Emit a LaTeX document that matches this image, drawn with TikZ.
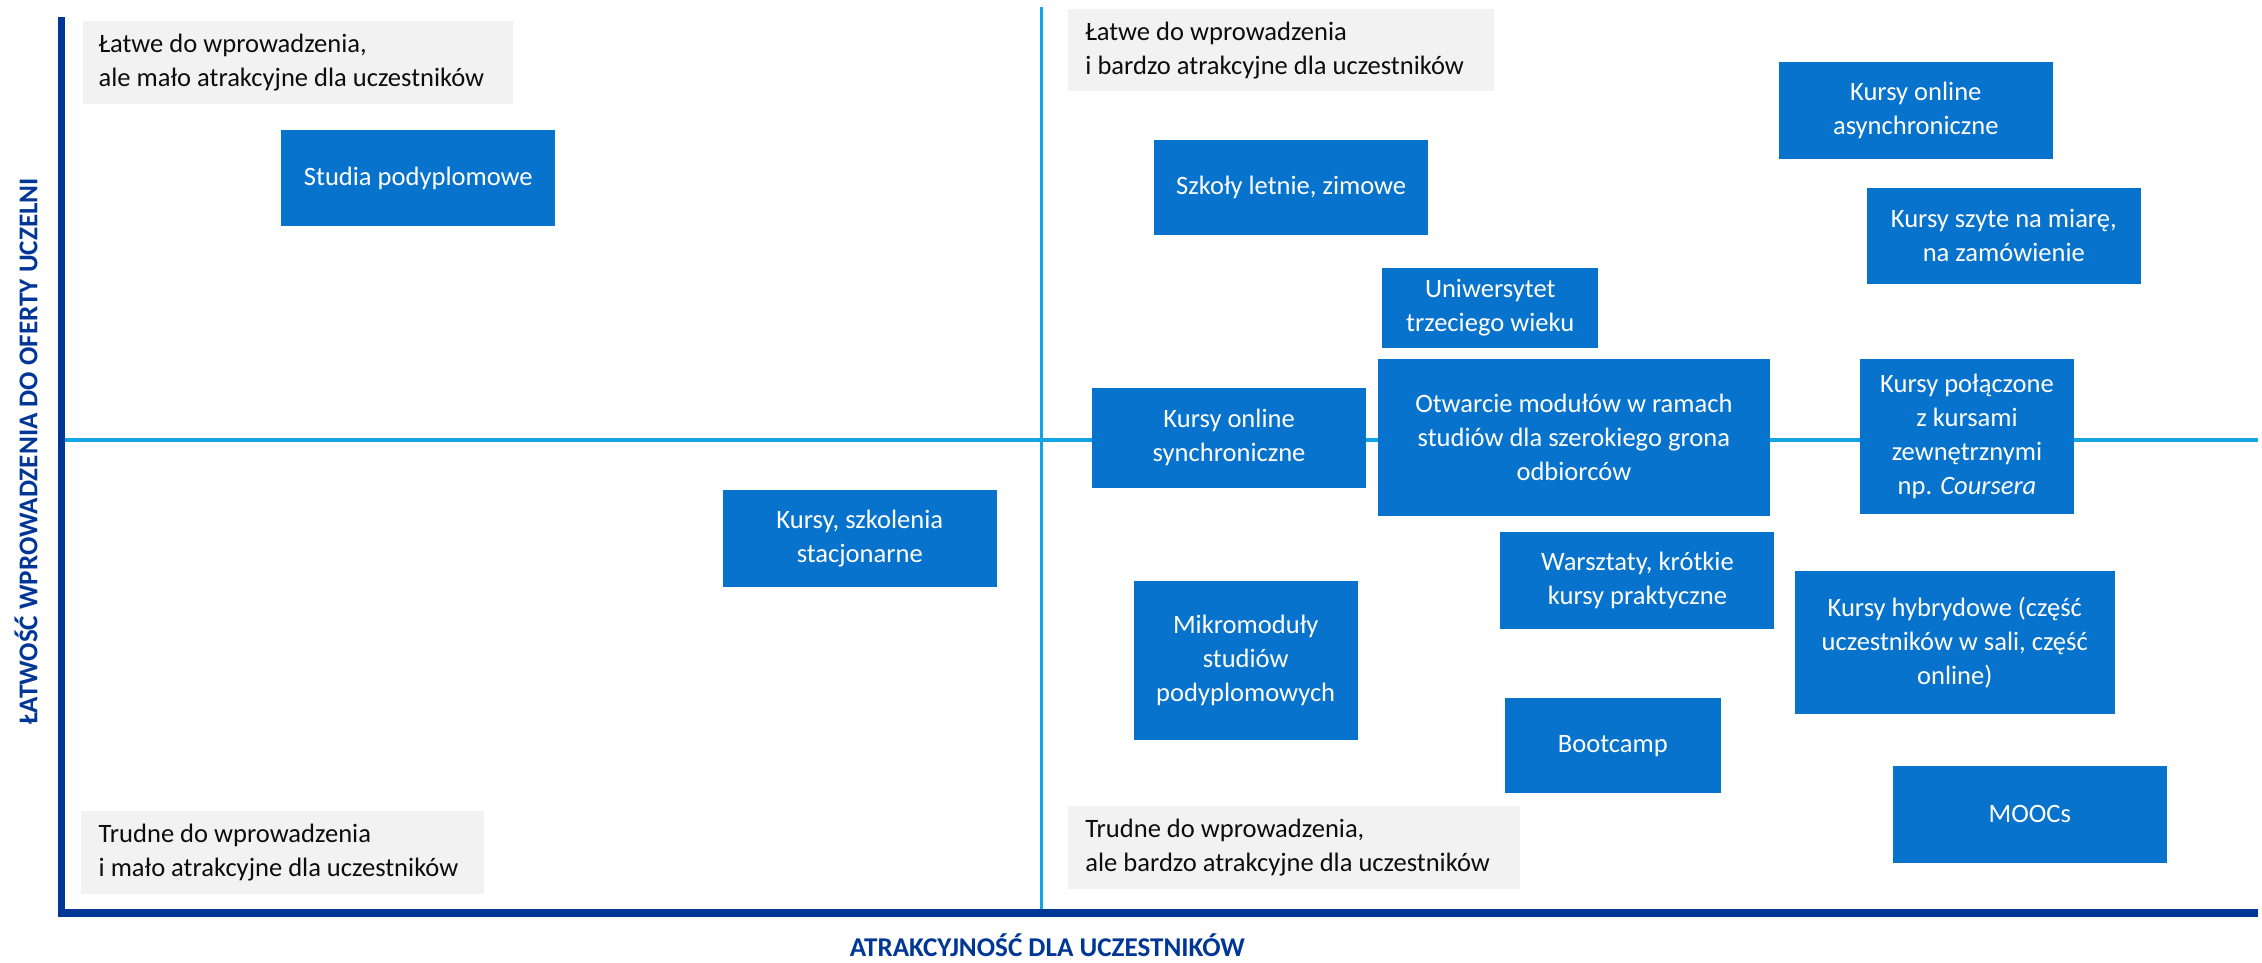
\documentclass[tikz,border=0pt]{standalone}
\usepackage{fontspec}
\setmainfont{Carlito}
\definecolor{boxblue}{HTML}{0873CD}
\definecolor{lineblue}{HTML}{12A4E5}
\definecolor{axisblue}{HTML}{003796}
\definecolor{quadgray}{HTML}{F2F2F2}
\definecolor{quadtext}{HTML}{0D0D0D}
\begin{document}
\begin{tikzpicture}[x=0.5pt,y=-0.5pt,
  bbox/.style={rectangle, fill=boxblue, text=white, align=center, inner sep=0pt,
    font=\fontsize{9.2}{11.8}\selectfont},
  qback/.style={rectangle, fill=quadgray, anchor=north west, inner sep=0pt},
  qtext/.style={text=quadtext, align=left, anchor=west, inner sep=0pt,
    font=\fontsize{9.2}{11.8}\selectfont},
  axisline/.style={draw=axisblue, line width=2.6pt},
  midline/.style={draw=lineblue, line width=1.1pt},
  axlabel/.style={text=axisblue, font=\fontsize{9.4}{11}\selectfont\bfseries, inner sep=0pt}]
\useasboundingbox (0,0) rectangle (1568,667.5);
% axes coordinates
\coordinate (ytop) at (42.5,12);
\coordinate (origin) at (42.5,633);
\coordinate (xend) at (1565,633);
\coordinate (vtop) at (722,5);
\coordinate (vbot) at (722,631);
\coordinate (hleft) at (45,305);
\coordinate (hright) at (1565,305);
\draw[midline] (vtop) -- (vbot);
\draw[midline] (hleft) -- (hright);
\draw[axisline] (ytop) -- (origin) -- (xend);
% axis labels
\node[axlabel, rotate=90] (ylab) at (18,313) {ŁATWOŚĆ WPROWADZENIA DO OFERTY UCZELNI};
\node[axlabel] (xlab) at (726,655) {ATRAKCYJNOŚĆ DLA UCZESTNIKÓW};
% quadrant labels
\node[qback, minimum width=149pt, minimum height=29pt] (qtl) at (57,14) {};
\node[qtext] (qtlt) at ([xshift=5.5pt]qtl.west) {Łatwe do wprowadzenia,\\ale mało atrakcyjne dla uczestników};
\node[qback, minimum width=147.5pt, minimum height=28.5pt] (qtr) at (740,6) {};
\node[qtext] (qtrt) at ([xshift=6pt]qtr.west) {Łatwe do wprowadzenia\\i bardzo atrakcyjne dla uczestników};
\node[qback, minimum width=139.5pt, minimum height=28.5pt] (qbl) at (56,562) {};
\node[qtext] (qblt) at ([xshift=6pt]qbl.west) {Trudne do wprowadzenia\\i mało atrakcyjne dla uczestników};
\node[qback, minimum width=156.5pt, minimum height=29pt] (qbr) at (740,558) {};
\node[qtext] (qbrt) at ([xshift=6pt]qbr.west) {Trudne do wprowadzenia,\\ale bardzo atrakcyjne dla uczestników};
% blue boxes
\node[bbox, minimum width=95pt, minimum height=33.5pt] (studia) at (290,123.5) {Studia podyplomowe};
\node[bbox, minimum width=95pt, minimum height=33pt] (szkoly) at (895,130) {Szkoły letnie, zimowe};
\node[bbox, minimum width=95pt, minimum height=33.5pt] (async) at (1328,76.5) {Kursy online\\asynchroniczne};
\node[bbox, minimum width=95pt, minimum height=33.5pt] (szyte) at (1389,163.5) {Kursy szyte na miarę,\\na zamówienie};
\node[bbox, minimum width=75pt, minimum height=27.5pt] (uniw) at (1033,213.5) {Uniwersytet\\trzeciego wieku};
\node[bbox, minimum width=95pt, minimum height=34.5pt] (sync) at (852,303.5) {Kursy online\\synchroniczne};
\node[bbox, minimum width=136pt, minimum height=54.5pt] (otwarcie) at (1091,303.5) {Otwarcie modułów w ramach\\studiów dla szerokiego grona\\odbiorców};
\node[bbox, minimum width=74.5pt, minimum height=53.5pt] (polaczone) at (1363.5,302.5) {Kursy połączone\\z kursami\\zewnętrznymi\\np. \textit{Coursera}};
\node[bbox, minimum width=95pt, minimum height=33.5pt] (stacj) at (596,373.5) {Kursy, szkolenia\\stacjonarne};
\node[bbox, minimum width=95pt, minimum height=33.5pt] (warsztaty) at (1135,402.5) {Warsztaty, krótkie\\kursy praktyczne};
\node[bbox, minimum width=77.5pt, minimum height=55pt] (mikro) at (863.5,458) {Mikromoduły\\studiów\\podyplomowych};
\node[bbox, minimum width=111pt, minimum height=49.5pt] (hybryd) at (1355,445.5) {Kursy hybrydowe (część\\uczestników w sali, część\\online)};
\node[bbox, minimum width=75pt, minimum height=33pt] (bootcamp) at (1118,517) {Bootcamp};
\node[bbox, minimum width=95pt, minimum height=33.5pt] (moocs) at (1407,564.5) {MOOCs};
\end{tikzpicture}
\end{document}
